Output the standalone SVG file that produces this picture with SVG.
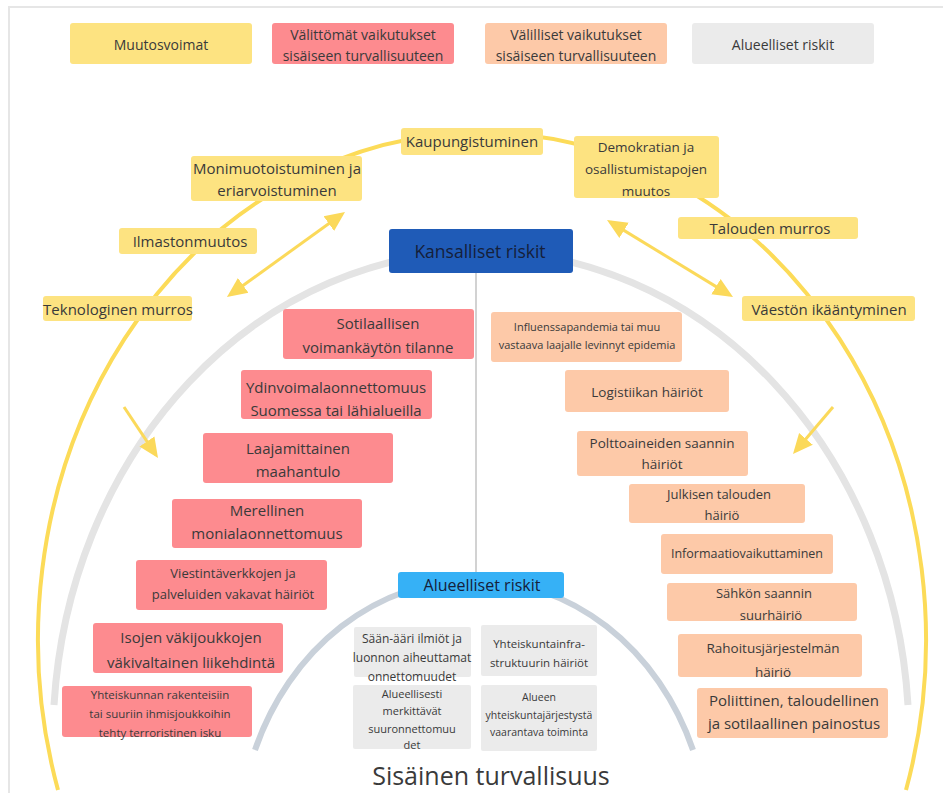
<svg xmlns="http://www.w3.org/2000/svg" width="943" height="793" viewBox="0 0 943 793">
<style>
text{font-family:"Open Sans","DejaVu Sans",sans-serif;fill:#3a3a3a;text-anchor:middle;dominant-baseline:central}
.y{fill:#fde381}.r{fill:#fd8b8f}.p{fill:#fdc9a8}.g{fill:#ebebeb}
.arr{stroke:#fbd95a;stroke-width:3;fill:none}
</style>
<defs>
<marker id="ah" viewBox="0 0 20 20" markerWidth="20" markerHeight="20" markerUnits="userSpaceOnUse" refX="16" refY="10" orient="auto-start-reverse">
<path d="M0,1 L20,10 L0,19 z" fill="#fbd95a"/>
</marker>
</defs>
<rect width="943" height="793" fill="#ffffff"/>
<path d="M9 793 L9 7 L943 7" fill="none" stroke="#e6e6e6" stroke-width="2"/>

<g id="arcs" fill="none">
<path d="M54 705 A428 487 0 0 1 908 705" stroke="#e4e4e4" stroke-width="7"/>
<path d="M255 750 A235 267 0 0 1 693 750" stroke="#c9d1da" stroke-width="6"/>
<path d="M58 790 A444 507 0 1 1 906 790" stroke="#fcdb58" stroke-width="4"/>
</g>

<g id="connectors">
<line x1="476" y1="273" x2="476" y2="572" stroke="#d2d2d2" stroke-width="2"/>
<line class="arr" x1="341.8" y1="214.3" x2="230.2" y2="294.7" marker-start="url(#ah)" marker-end="url(#ah)"/>
<line class="arr" x1="610.4" y1="222.1" x2="729.6" y2="294.9" marker-start="url(#ah)" marker-end="url(#ah)"/>
<line class="arr" x1="124" y1="407" x2="155.8" y2="454.7" marker-end="url(#ah)"/>
<line class="arr" x1="833" y1="407" x2="795.6" y2="451" marker-end="url(#ah)"/>
</g>

<g id="legend-muutosvoimat"><rect class="y" x="70" y="23" width="182" height="41" rx="3"/><text x="161" y="44" font-size="14">Muutosvoimat</text></g>
<g id="legend-valittomat"><rect class="r" x="272" y="23" width="182" height="41" rx="3"/><text x="363" y="34" font-size="14">Välittömät vaikutukset</text><text x="363" y="55" font-size="14">sisäiseen turvallisuuteen</text></g>
<g id="legend-valilliset"><rect class="p" x="485" y="23" width="182" height="41" rx="3"/><text x="576" y="34" font-size="14">Välilliset vaikutukset</text><text x="576" y="55" font-size="14">sisäiseen turvallisuuteen</text></g>
<g id="legend-alueelliset"><rect class="g" x="692" y="23" width="182" height="41" rx="3"/><text x="783" y="44" font-size="14">Alueelliset riskit</text></g>

<g id="kaupungistuminen"><rect class="y" x="401" y="128" width="142" height="27" rx="3"/><text x="472" y="141" font-size="15">Kaupungistuminen</text></g>
<g id="monimuotoistuminen"><rect class="y" x="191" y="156" width="171" height="45" rx="3"/><text x="277" y="168" font-size="15">Monimuotoistuminen ja</text><text x="277" y="190" font-size="15">eriarvoistuminen</text></g>
<g id="ilmastonmuutos"><rect class="y" x="119" y="228" width="138" height="26" rx="3"/><text x="190" y="241" font-size="15">Ilmastonmuutos</text></g>
<g id="teknologinen"><rect class="y" x="43" y="296" width="149" height="25" rx="3"/><text x="118" y="309" font-size="15">Teknologinen murros</text></g>
<g id="demokratian"><rect class="y" x="574" y="136" width="145" height="62" rx="3"/><text x="646" y="147" font-size="13.5">Demokratian ja</text><text x="646" y="169" font-size="13.5">osallistumistapojen</text><text x="646" y="191" font-size="13.5">muutos</text></g>
<g id="talouden-murros"><rect class="y" x="678" y="217" width="180" height="22" rx="3"/><text x="770" y="228" font-size="15">Talouden murros</text></g>
<g id="vaeston-ikaantyminen"><rect class="y" x="742" y="296" width="173" height="25" rx="3"/><text x="829" y="309" font-size="15">Väestön ikääntyminen</text></g>

<g id="kansalliset-riskit"><rect x="389" y="229" width="184" height="44" rx="3" fill="#1f5bb7"/><text x="480" y="251" font-size="17.5" style="fill:#15203a">Kansalliset riskit</text></g>

<g id="sotilaallisen"><rect class="r" x="283" y="309" width="191" height="50" rx="3"/><text x="378" y="323" font-size="15">Sotilaallisen</text><text x="378" y="347" font-size="15">voimankäytön tilanne</text></g>
<g id="ydinvoimala"><rect class="r" x="241" y="370" width="191" height="49" rx="3"/><text x="336" y="387" font-size="15">Ydinvoimalaonnettomuus</text><text x="336" y="410" font-size="15">Suomessa tai lähialueilla</text></g>
<g id="laajamittainen"><rect class="r" x="203" y="433" width="190" height="50" rx="3"/><text x="298" y="448" font-size="15">Laajamittainen</text><text x="298" y="471" font-size="15">maahantulo</text></g>
<g id="merellinen"><rect class="r" x="172" y="499" width="190" height="49" rx="3"/><text x="267" y="510" font-size="15">Merellinen</text><text x="267" y="533" font-size="15">monialaonnettomuus</text></g>
<g id="viestintaverkkojen"><rect class="r" x="136" y="560" width="191" height="50" rx="3"/><text x="233" y="573" font-size="13">Viestintäverkkojen ja</text><text x="233" y="594" font-size="13">palveluiden vakavat häiriöt</text></g>
<g id="isojen"><rect class="r" x="93" y="623" width="190" height="50" rx="3"/><text x="191" y="637" font-size="15">Isojen väkijoukkojen</text><text x="191" y="662" font-size="15">väkivaltainen liikehdintä</text></g>
<g id="yhteiskunnan"><rect class="r" x="62" y="686" width="190" height="51" rx="3"/><text x="160" y="694" font-size="11.5">Yhteiskunnan rakenteisiin</text><text x="160" y="713" font-size="11.5">tai suuriin ihmisjoukkoihin</text><text x="160" y="732" font-size="11.5">tehty terroristinen isku</text></g>

<g id="influenssapandemia"><rect class="p" x="491" y="312" width="191" height="50" rx="3"/><text x="587" y="326" font-size="11">Influenssapandemia tai muu</text><text x="587" y="344" font-size="11">vastaava laajalle levinnyt epidemia</text></g>
<g id="logistiikan"><rect class="p" x="565" y="370" width="164" height="42" rx="3"/><text x="647" y="392" font-size="13.5">Logistiikan häiriöt</text></g>
<g id="polttoaineiden"><rect class="p" x="577" y="431" width="171" height="45" rx="3"/><text x="662" y="443" font-size="13.5">Polttoaineiden saannin</text><text x="662" y="464" font-size="13.5">häiriöt</text></g>
<g id="julkisen-talouden"><rect class="p" x="629" y="484" width="176" height="39" rx="3"/><text x="719" y="494" font-size="13">Julkisen talouden</text><text x="722" y="515" font-size="13">häiriö</text></g>
<g id="informaatiovaikuttaminen"><rect class="p" x="661" y="534" width="172" height="40" rx="3"/><text x="747" y="553" font-size="12.5">Informaatiovaikuttaminen</text></g>
<g id="sahkon"><rect class="p" x="667" y="583" width="190" height="38" rx="3"/><text x="764" y="593" font-size="13">Sähkön saannin</text><text x="771" y="615" font-size="13">suurhäiriö</text></g>
<g id="rahoitus"><rect class="p" x="678" y="634" width="184" height="43" rx="3"/><text x="773" y="648" font-size="13.5">Rahoitusjärjestelmän</text><text x="773" y="672" font-size="13.5">häiriö</text></g>
<g id="poliittinen"><rect class="p" x="697" y="688" width="191" height="50" rx="3"/><text x="794" y="700" font-size="15">Poliittinen, taloudellinen</text><text x="794" y="723" font-size="15">ja sotilaallinen painostus</text></g>

<g id="alueelliset-riskit"><rect x="398" y="572" width="166" height="26" rx="3" fill="#36b1f6"/><text x="482" y="585" font-size="16" style="fill:#15203a">Alueelliset riskit</text></g>
<g id="saan-aari"><rect class="g" x="354" y="627" width="117" height="50" rx="2"/><text x="412" y="638" font-size="12">Sään-ääri ilmiöt ja</text><text x="412" y="657" font-size="12">luonnon aiheuttamat</text><text x="412" y="676" font-size="12">onnettomuudet</text></g>
<g id="yhteiskuntainfra"><rect class="g" x="481" y="625" width="116" height="51" rx="2"/><text x="539" y="643" font-size="11.5">Yhteiskuntainfra-</text><text x="539" y="662" font-size="11.5">struktuurin häiriöt</text></g>
<g id="alueellisesti"><rect class="g" x="353" y="685" width="118" height="64" rx="2"/><text x="412" y="693" font-size="11">Alueellisesti</text><text x="412" y="710" font-size="11">merkittävät</text><text x="412" y="728" font-size="11">suuronnettomuu</text><text x="412" y="744" font-size="11">det</text></g>
<g id="alueen"><rect class="g" x="481" y="685" width="116" height="66" rx="2"/><text x="539" y="697" font-size="10.5">Alueen</text><text x="539" y="715" font-size="10.5">yhteiskuntajärjestystä</text><text x="539" y="732" font-size="10.5">vaarantava toiminta</text></g>

<g id="sisainen-turvallisuus"><text x="491" y="775" font-size="25">Sisäinen turvallisuus</text></g>
</svg>
